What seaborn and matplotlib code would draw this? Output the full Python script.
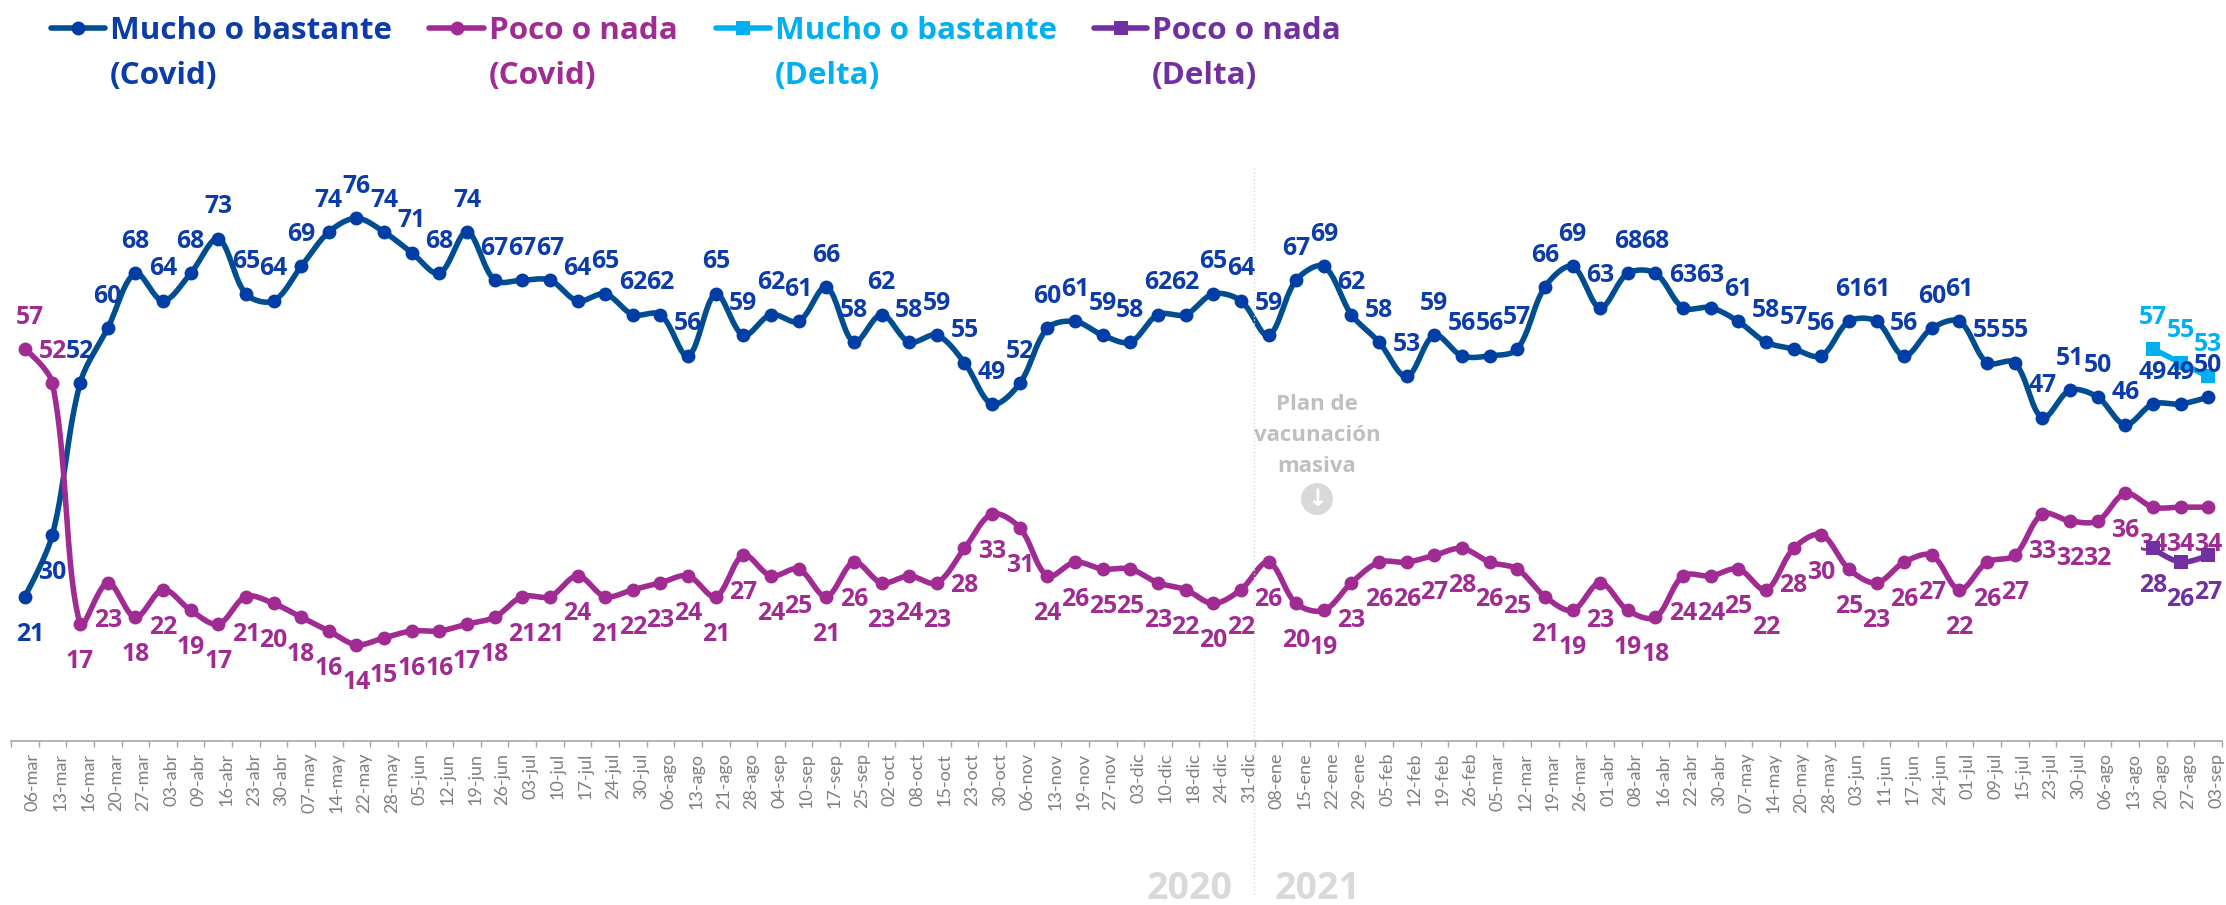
# plot.py
# Confianza / preocupacion por Covid y Delta, serie semanal 2020-2021.
import matplotlib
matplotlib.use("Agg")
import matplotlib.pyplot as plt
import matplotlib.transforms as mtrans
from matplotlib.lines import Line2D
from matplotlib.patches import Circle
import numpy as np
import seaborn as sns

# ── Data ──────────────────────────────────────────────────────────────────────
dates = [
    "06-mar", "13-mar", "16-mar", "20-mar", "27-mar", "03-abr", "09-abr", "16-abr", "23-abr", "30-abr",
    "07-may", "14-may", "22-may", "28-may", "05-jun", "12-jun", "19-jun", "26-jun", "03-jul", "10-jul",
    "17-jul", "24-jul", "30-jul", "06-ago", "13-ago", "21-ago", "28-ago", "04-sep", "10-sep", "17-sep",
    "25-sep", "02-oct", "08-oct", "15-oct", "23-oct", "30-oct", "06-nov", "13-nov", "19-nov", "27-nov",
    "03-dic", "10-dic", "18-dic", "24-dic", "31-dic", "08-ene", "15-ene", "22-ene", "29-ene", "05-feb",
    "12-feb", "19-feb", "26-feb", "05-mar", "12-mar", "19-mar", "26-mar", "01-abr", "08-abr", "16-abr",
    "22-abr", "30-abr", "07-may", "14-may", "20-may", "28-may", "03-jun", "11-jun", "17-jun", "24-jun",
    "01-jul", "09-jul", "15-jul", "23-jul", "30-jul", "06-ago", "13-ago", "20-ago", "27-ago", "03-sep",
]
mucho_covid = [
    21, 30, 52, 60, 68, 64, 68, 73, 65, 64,
    69, 74, 76, 74, 71, 68, 74, 67, 67, 67,
    64, 65, 62, 62, 56, 65, 59, 62, 61, 66,
    58, 62, 58, 59, 55, 49, 52, 60, 61, 59,
    58, 62, 62, 65, 64, 59, 67, 69, 62, 58,
    53, 59, 56, 56, 57, 66, 69, 63, 68, 68,
    63, 63, 61, 58, 57, 56, 61, 61, 56, 60,
    61, 55, 55, 47, 51, 50, 46, 49, 49, 50,
]
poco_covid = [
    57, 52, 17, 23, 18, 22, 19, 17, 21, 20,
    18, 16, 14, 15, 16, 16, 17, 18, 21, 21,
    24, 21, 22, 23, 24, 21, 27, 24, 25, 21,
    26, 23, 24, 23, 28, 33, 31, 24, 26, 25,
    25, 23, 22, 20, 22, 26, 20, 19, 23, 26,
    26, 27, 28, 26, 25, 21, 19, 23, 19, 18,
    24, 24, 25, 22, 28, 30, 25, 23, 26, 27,
    22, 26, 27, 33, 32, 32, 36, 34, 34, 34,
]
mucho_delta = [57, 55, 53]
poco_delta = [28, 26, 27]

# ── Settings ──────────────────────────────────────────────────────────────────
W, H = 2226, 905
DPI = 100
AX_LEFT, AX_RIGHT = 11, 2222     # px
AX_TOP, AX_BOTTOM = 122, 741     # px
Y_MIN, Y_MAX = 0, 90

BLUE_LINE = "#004E8F"
BLUE_MARK = "#003DA5"
BLUE_TEXT = "#0B3CA8"
MAGENTA = "#A02B93"
CYAN = "#00B0F0"
PURPLE = "#7030A0"
GREY_AXIS = "#A6A6A6"
GREY_TICK = "#7F7F7F"
GREY_NOTE = "#BFBFBF"
GREY_YEAR = "#D9D9D9"

sns.set_theme(style="white")
plt.rcParams["font.family"] = ["Open Sans", "DejaVu Sans"]

fig = plt.figure(figsize=(W / DPI, H / DPI), dpi=DPI)
ax = fig.add_axes([AX_LEFT / W, 1 - AX_BOTTOM / H, (AX_RIGHT - AX_LEFT) / W, (AX_BOTTOM - AX_TOP) / H])
ax.set_xlim(-0.5, len(dates) - 0.5)
ax.set_ylim(Y_MIN, Y_MAX)

px_x = (AX_RIGHT - AX_LEFT) / len(dates)
px_y = (AX_BOTTOM - AX_TOP) / (Y_MAX - Y_MIN)


def fx(px):
    return px / W


def fy(px):
    return 1 - px / H


def smooth(xs, ys, tension=1 / 3, steps=24):
    # same kind of bezier spline as a "smoothed line" in Excel, built in pixel space
    p = np.column_stack([np.asarray(xs, float) * px_x, np.asarray(ys, float) * px_y])
    out = [p[:1]]
    t = np.linspace(0, 1, steps)[1:, None]
    for i in range(len(p) - 1):
        c1, c2 = p[i].copy(), p[i + 1].copy()
        if i > 0:
            d0, d1 = np.linalg.norm(p[i] - p[i - 1]), np.linalg.norm(p[i + 1] - p[i])
            c1 = p[i] + tension * d1 / (d0 + d1) * (p[i + 1] - p[i - 1])
        if i < len(p) - 2:
            d1, d2 = np.linalg.norm(p[i + 1] - p[i]), np.linalg.norm(p[i + 2] - p[i + 1])
            c2 = p[i + 1] - tension * d1 / (d1 + d2) * (p[i + 2] - p[i])
        out.append((1 - t) ** 3 * p[i] + 3 * (1 - t) ** 2 * t * c1 + 3 * (1 - t) * t ** 2 * c2 + t ** 3 * p[i + 1])
    curve = np.vstack(out)
    return curve[:, 0] / px_x, curve[:, 1] / px_y


def draw_series(xs, ys, line_color, mark_color, marker, size, z=3):
    cx, cy = smooth(xs, ys)
    sns.lineplot(x=cx, y=cy, ax=ax, color=line_color, lw=4.0, sort=False, estimator=None,
                 solid_capstyle="round", zorder=z, legend=False)
    sns.scatterplot(x=xs, y=ys, ax=ax, color=mark_color, marker=marker, s=size, linewidth=0,
                    zorder=z + 0.1, legend=False)


def draw_labels(xs, ys, color, offsets, z=5):
    for x, y, off in zip(xs, ys, offsets):
        ax.annotate(str(y), (x, y), xytext=off, textcoords="offset points", ha="center",
                    va="center", color=color, fontsize=LABEL_SIZE, fontweight="bold",
                    zorder=z, annotation_clip=False)


# ── Series ────────────────────────────────────────────────────────────────────
LABEL_SIZE = 17.8
OFF_UP = (0, 23)     # points between a marker and its label
OFF_DOWN = (0, -27)

x_all = np.arange(len(dates))
x_delta = x_all[-len(mucho_delta):]

draw_series(x_delta, mucho_delta, CYAN, CYAN, "s", 100, z=2)
draw_series(x_delta, poco_delta, PURPLE, PURPLE, "s", 100, z=6)
draw_series(x_all, mucho_covid, BLUE_LINE, BLUE_MARK, "o", 100)
draw_series(x_all, poco_covid, MAGENTA, MAGENTA, "o", 100)

mucho_off = [OFF_UP] * len(dates)
mucho_off[0] = (4, OFF_DOWN[1])
mucho_off[1] = OFF_DOWN
poco_off = [OFF_DOWN] * len(dates)
poco_off[0] = (4, OFF_UP[1])
poco_off[1] = OFF_UP

draw_labels(x_all, mucho_covid, BLUE_TEXT, mucho_off)
draw_labels(x_all, poco_covid, MAGENTA, poco_off)
draw_labels(x_delta, mucho_delta, CYAN, [OFF_UP] * 3)
draw_labels(x_delta, poco_delta, PURPLE, [OFF_DOWN] * 3)

# ── Axes ──────────────────────────────────────────────────────────────────────
sns.despine(ax=ax, left=True, top=True, right=True)
ax.spines["bottom"].set_color(GREY_AXIS)
ax.spines["bottom"].set_linewidth(1.2)
ax.set_yticks([])
ax.set_xticks(x_all)
ax.set_xticks(np.arange(len(dates) + 1) - 0.5, minor=True)
ax.tick_params(axis="x", which="major", length=0, pad=8.5)
ax.tick_params(axis="x", which="minor", length=4.5, width=1, color=GREY_AXIS, bottom=True)
ax.set_xticklabels(dates, rotation=90, family="Lato", fontsize=13, color=GREY_TICK, va="top", ha="center")
shift = mtrans.ScaledTranslation(8 / DPI, 0, fig.dpi_scale_trans)
for lab in ax.get_xticklabels():
    lab.set_transform(lab.get_transform() + shift)

# ── 2020 / 2021 divider and note ──────────────────────────────────────────────
fig.add_artist(Line2D([fx(1254)] * 2, [fy(168), fy(895)], color=GREY_YEAR, lw=1, ls=":"))
fig.text(fx(1190), fy(889), "2020", color=GREY_YEAR, fontsize=27, fontweight="bold", ha="center", va="center")
fig.text(fx(1318), fy(889), "2021", color=GREY_YEAR, fontsize=27, fontweight="bold", ha="center", va="center")
for line, py in zip(["Plan de", "vacunación", "masiva"], [404, 435, 466]):
    fig.text(fx(1317), fy(py), line, color=GREY_NOTE, fontsize=16, fontweight="bold", ha="center", va="center")
fig.add_artist(Circle((1317 / DPI, (H - 499) / DPI), 0.16, transform=fig.dpi_scale_trans,
                      color=GREY_YEAR, lw=0))
fig.text(fx(1317), fy(499), "↓", color="white", fontsize=17, fontweight="bold", ha="center", va="center",
         family="DejaVu Sans")

# ── Legend ────────────────────────────────────────────────────────────────────
legend_items = [
    ("Mucho o bastante", "(Covid)", BLUE_LINE, BLUE_MARK, BLUE_TEXT, "o", 51, 105, 110),
    ("Poco o nada", "(Covid)", MAGENTA, MAGENTA, MAGENTA, "o", 429, 484, 489),
    ("Mucho o bastante", "(Delta)", CYAN, CYAN, CYAN, "s", 716, 770, 775),
    ("Poco o nada", "(Delta)", PURPLE, PURPLE, PURPLE, "s", 1094, 1147, 1152),
]
for top, bottom, lc, mc, tc, mk, x0, x1, xt in legend_items:
    fig.add_artist(Line2D([fx(x0), fx(x1)], [fy(28)] * 2, color=lc, lw=4.0, solid_capstyle="round"))
    fig.add_artist(Line2D([fx((x0 + x1) / 2)], [fy(28)], color=mc, marker=mk, ms=10, mew=0, ls="none"))
    fig.text(fx(xt), fy(31), top, color=tc, fontsize=22.6, fontweight="bold", va="center")
    fig.text(fx(xt), fy(76), bottom, color=tc, fontsize=22.6, fontweight="bold", va="center")

fig.savefig("out.png", dpi=DPI)
